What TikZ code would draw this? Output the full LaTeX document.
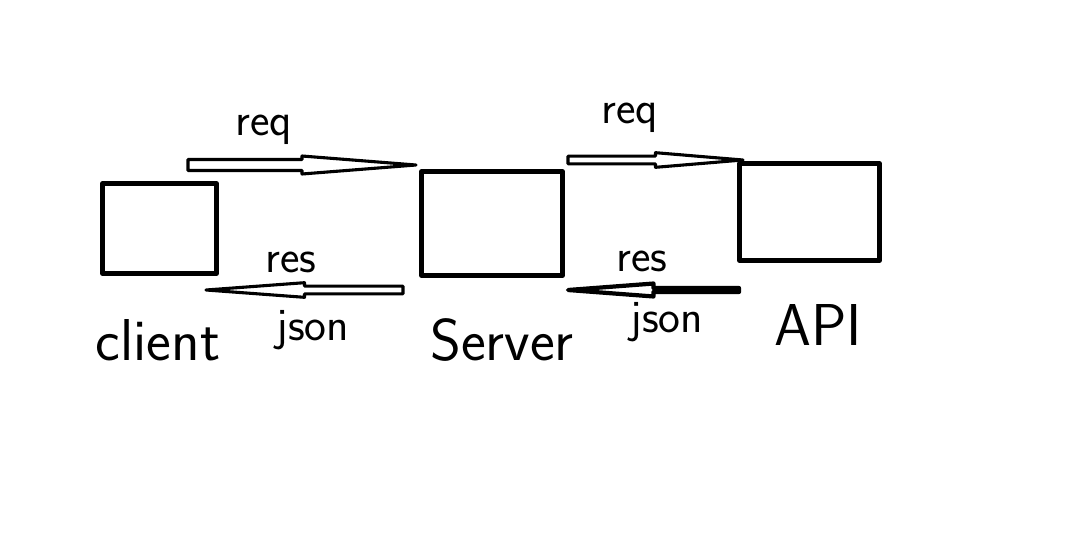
\documentclass[tikz,border=0pt]{standalone}
\usetikzlibrary{calc}

\begin{document}
\begin{tikzpicture}[x=0.025cm, y=-0.025cm, line join=round,
box/.style={draw, line width=3.2pt, inner sep=0pt},
arrowline/.style={draw, line width=2.2pt},
hollow/.style 2 args={to path={let \p1=(\tikztostart), \p2=(\tikztotarget), \n1={0.5*(\x2-\x1)} in
  (\x1,{\y1-#1}) -- ({\x1+\n1},{\y1-#1}) -- ({\x1+\n1},{\y1-#2}) -- (\x2,\y2)
  -- ({\x1+\n1},{\y1+#2}) -- ({\x1+\n1},{\y1+#1}) -- (\x1,{\y1+#1}) -- cycle}},
word/.style={font=\sffamily\fontsize{33}{33}\selectfont, inner sep=0pt},
boxname/.style={font=\sffamily\fontsize{42}{42}\selectfont, inner sep=0pt}]

\useasboundingbox (0,0) rectangle (1068,534);

%boxes
\node[box, minimum width=2.85cm, minimum height=2.25cm] (client) at (159.5,228.5) {};
\node[box, minimum width=3.525cm, minimum height=2.6cm] (server) at (492,223.5) {};
\node[box, minimum width=3.5cm, minimum height=2.425cm] (api) at (809.5,212) {};

%names
\node[boxname] (clientname) at (158,340) {client};
\node[boxname] (servername) at (502,340) {Server};
\node[boxname] (apiname) at (818,325) {API};

%arrow ends
\coordinate (req1s) at (188,165);
\coordinate (req1t) at (416,165);
\coordinate (res1s) at (403,290);
\coordinate (res1t) at (206,290);
\coordinate (req2s) at (568,160);
\coordinate (req2t) at (743,160);
\coordinate (res2s) at (739,290);
\coordinate (res2t) at (568,290);

\path[arrowline] (req1s) to[hollow={3.9pt}{6.4pt}] (req1t);
\path[arrowline] (res1s) to[hollow={2.8pt}{5.2pt}] (res1t);
\path[arrowline] (req2s) to[hollow={2.8pt}{5.2pt}] (req2t);
\path[arrowline, line width=3pt] (res2s) to[hollow={1.4pt}{4.6pt}] (res2t);

%labels
\node[word] (req1) at (264,130) {req};
\node[word] (req2) at (630,118) {req};
\node[word] (res1) at (291,262) {res};
\node[word] (json1) at (313,330) {json};
\node[word] (res2) at (642,261) {res};
\node[word] (json2) at (667,322) {json};
\end{tikzpicture}
\end{document}
